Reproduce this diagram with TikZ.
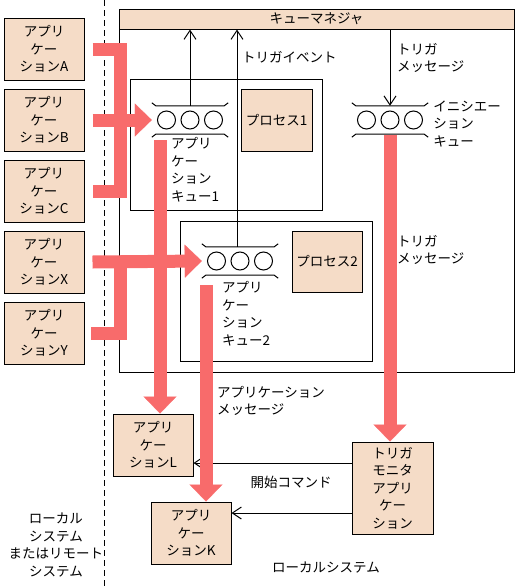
\documentclass[tikz,border=0pt]{standalone}
\usepackage{fontspec}
\setmainfont{Noto Sans CJK JP}
\usetikzlibrary{positioning,arrows.meta}
\definecolor{peach}{RGB}{245,220,199}
\definecolor{flowred}{RGB}{248,107,107}

\begin{document}
\begin{tikzpicture}[x=1pt,y=-1pt,
  every node/.style={font=\fontsize{13.5}{17.5}\selectfont},
  app/.style={draw,fill=peach,line width=1pt,inner sep=0pt,align=center,
    minimum width=80pt,minimum height=62pt},
  proc/.style={app,minimum width=71pt},
  area/.style={draw,line width=1pt,inner sep=0pt},
  queue/.style={inner sep=0pt,minimum width=76pt,minimum height=28pt},
  sig/.style={line width=1pt,-{Straight Barb[length=9pt,width=12pt]}},
  redline/.style={draw=flowred,line width=13pt},
  redhead/.style={redline,-{Triangle[length=17pt,width=33pt,line width=0.1pt]}},
  txt/.style={align=left,anchor=west,inner sep=0pt}]
\useasboundingbox (0,0) rectangle (527,587);

%Frames
\node[area, minimum width=395pt, minimum height=363pt] (qm) at (316.5,190.5) {};
\node[app, minimum width=395pt, minimum height=20pt, anchor=north] (qmhead) at (qm.north) {キューマネジャ};
\node[area, minimum width=192pt, minimum height=131pt] (box1) at (226,144.5) {};
\node[area, minimum width=192pt, minimum height=140pt] (box2) at (276,291) {};
\node[proc] (proc1) at (276.5,120) {プロセス1};
\node[proc, minimum width=70pt, minimum height=61pt] (proc2) at (327,261.5) {プロセス2};

%Queues
\node[queue] (q1) at (190,120) {};
\node[queue] (q2) at (240,261) {};
\node[queue] (iq) at (390,120) {};
\foreach \q in {q1,q2,iq}{
  \foreach \dx in {-23.5,0,23.5}
    \draw[line width=1pt] ([xshift=\dx pt]\q.center) circle[radius=9pt];
  \draw[line width=1pt] ([yshift=3pt]\q.north west) -- ([xshift=4pt]\q.north west)
    -- ([xshift=-4pt]\q.north east) -- ([yshift=3pt]\q.north east);
  \draw[line width=1pt] ([yshift=-3pt]\q.south west) -- ([xshift=4pt]\q.south west)
    -- ([xshift=-4pt]\q.south east) -- ([yshift=-3pt]\q.south east);
}
\node[txt, anchor=north west] (q1txt) at ([xshift=-19pt,yshift=-3pt]q1.south) {アプリ\\ケー\\ション\\キュー1};
\node[txt, anchor=north west] (q2txt) at ([xshift=-18pt,yshift=-6pt]q2.south) {アプリ\\ケー\\ション\\キュー2};
\node[txt] (iqtxt) at ([xshift=5pt,yshift=-4pt]iq.east) {イニシエー\\ション\\キュー};

%Applications
\node[app] (appA) at (44,49) {アプリ\\ケー\\ションA};
\node[app] (appB) [below=8pt of appA] {アプリ\\ケー\\ションB};
\node[app] (appC) [below=8pt of appB] {アプリ\\ケー\\ションC};
\node[app] (appX) [below=8pt of appC] {アプリ\\ケー\\ションX};
\node[app] (appY) [below=8pt of appX] {アプリ\\ケー\\ションY};
\node[app] (appL) at (153,445) {アプリ\\ケー\\ションL};
\node[app] (appK) at (191,533) {アプリ\\ケー\\ションK};
\node[app, minimum width=81pt, minimum height=92pt] (trigmon) at (392.5,488) {トリガ\\モニタ\\アプリ\\ケー\\ション};

%Lines
\draw[dash pattern=on 6pt off 4pt, line width=1pt] (104,0) -- (104,587);
\draw[sig] (q1.north) -- (q1.north |- qmhead.south);
\draw[sig] ([xshift=-3pt]q2.north) -- ([xshift=-3pt]q2.north |- qmhead.south);
\draw[sig] (iq.north |- qmhead.south) -- (iq.north);
\draw[sig] ([yshift=25pt]trigmon.west) -- ([yshift=25pt]trigmon.west -| appL.east);
\draw[sig] ([yshift=-25pt]trigmon.west) -- ([yshift=-25pt]trigmon.west -| appK.east);

%Messages
\draw[redline] ([xshift=8pt]appA.east) -- ++(28,0) |- ([xshift=8pt]appC.east);
\draw[redline] ([xshift=36pt]appX.east) |- ([xshift=6pt]appY.east);
\draw[redhead] ([xshift=8pt]appB.east) -- (q1.west);
\draw[redhead] ([xshift=8pt]appX.east) -- (q2.west);
\coordinate (q1out) at ([xshift=-30pt,yshift=-6pt]q1.south);
\coordinate (q2out) at ([xshift=-34pt,yshift=-10pt]q2.south);
\draw[redhead] (q1out) -- (q1out |- appL.north);
\draw[redhead] (q2out) -- (q2out |- appK.north);
\draw[redhead] ([yshift=-1pt]iq.south) -- (iq.south |- trigmon.north);

%Labels
\node[txt] (evt) at (242,57) {トリガイベント};
\node[txt] (msg1) at (397,58) {トリガ\\メッセージ};
\node[txt] (msg2) at (397,250) {トリガ\\メッセージ};
\node[txt] (appmsg) at (217,401) {アプリケーション\\メッセージ};
\node (cmd) at (291,482) {開始コマンド};
\node[align=center] (remote) at (56,545) {ローカル\\システム\\またはリモート\\システム};
\node (local) at (326,568) {ローカルシステム};
\end{tikzpicture}
\end{document}
